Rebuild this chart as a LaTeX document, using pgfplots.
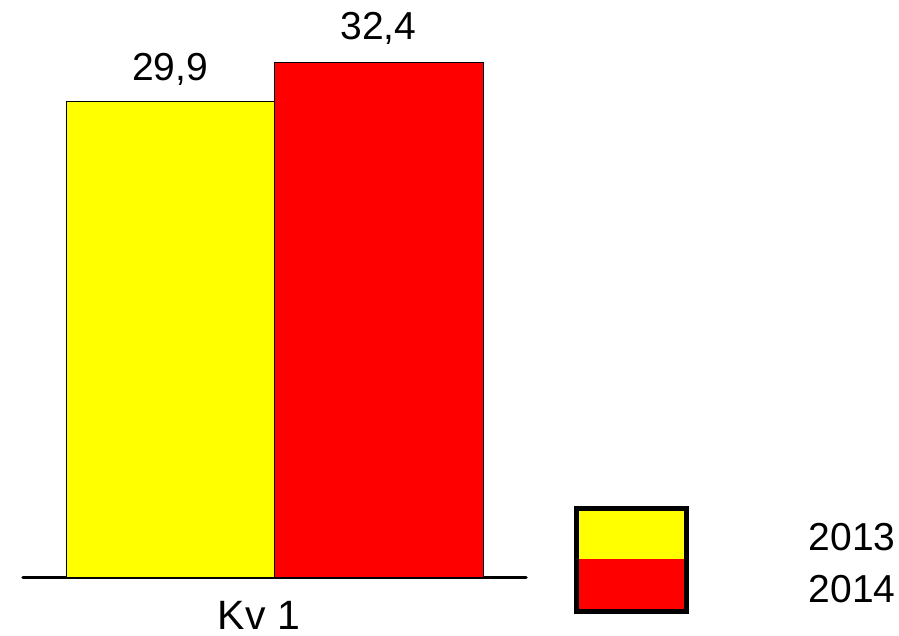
\documentclass[border=0pt]{standalone}
\usepackage{fontspec}
\setmainfont{Liberation Sans}
\usepackage{pgfplots}
\pgfplotsset{compat=1.18}
\definecolor{yel}{RGB}{255,255,0}
\definecolor{rd}{RGB}{255,0,0}
\begin{document}
\begin{tikzpicture}
\path[use as bounding box] (0,0) rectangle (899pt,636pt);
\begin{axis}[
  at={(23pt,58.5pt)}, anchor=south west,
  scale only axis, width=503pt, height=577.5pt,
  xmin=23, xmax=526, ymin=0, ymax=36.3,
  axis x line=bottom, axis y line=none,
  axis line style={-, line width=3.5pt, line cap=round},
  xtick={259}, xticklabels={Kv 1}, major tick length=0pt,
  x tick label style={font=\fontsize{41}{49}\selectfont, anchor=base, yshift=-52pt, inner sep=0pt},
  clip=false,
  /pgf/number format/.cd, use comma, fixed, fixed zerofill, precision=1, assume math mode=true,
  /pgfplots/.cd,
  legend style={at={(1.0954,0.123)}, anchor=north west, draw=none, fill=none,
    inner sep=0pt, outer sep=0pt, row sep=0pt,
    font=\fontsize{39}{47}\selectfont,
    nodes={inner sep=0pt, outer sep=0pt},
    /tikz/every odd column/.append style={column sep=120pt}},
]
\addplot[ybar, bar width=208, bar shift=0pt, fill=yel, draw=black, line width=0.8pt,
  nodes near coords, nodes near coords style={font=\fontsize{39}{47}\selectfont, anchor=base, yshift=21.5pt, inner sep=0pt, text=black},
  legend image code/.code={
    \fill[yel] (0pt,-21pt) rectangle (114pt,31pt);
    \fill[black] (0pt,-21pt) rectangle (4pt,31pt);
    \fill[black] (110pt,-21pt) rectangle (114pt,31pt);
    \fill[black] (0pt,27pt) rectangle (114pt,31pt);
  }] coordinates {(170,29.9)};
\addlegendentry{2013}
\addplot[ybar, bar width=209, bar shift=0pt, fill=rd, draw=black, line width=0.8pt,
  nodes near coords, nodes near coords style={font=\fontsize{39}{47}\selectfont, anchor=base, yshift=22.5pt, inner sep=0pt, text=black},
  legend image code/.code={
    \fill[rd] (0pt,-24pt) rectangle (114pt,30pt);
    \fill[black] (0pt,-24pt) rectangle (4pt,30pt);
    \fill[black] (110pt,-24pt) rectangle (114pt,30pt);
    \fill[black] (0pt,-24pt) rectangle (114pt,-20pt);
  }] coordinates {(378.5,32.4)};
\addlegendentry{2014}
\end{axis}
\end{tikzpicture}
\end{document}
